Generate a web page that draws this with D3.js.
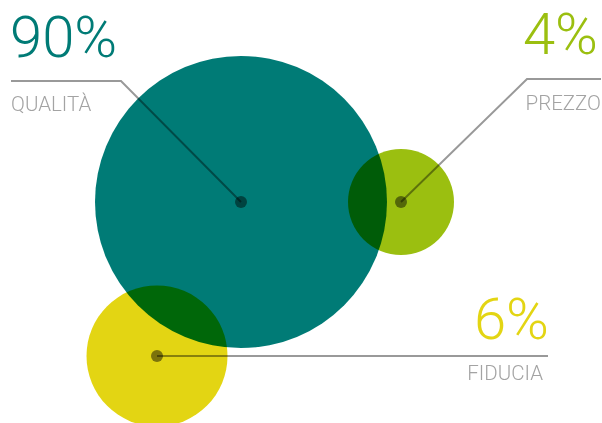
<!DOCTYPE html>
<html>
<head>
<meta charset="utf-8">
<script src="https://cdn.jsdelivr.net/npm/d3@7"></script>
<style>
  body { margin: 0; background: #fff; }
  svg { display: block; }
  .blend { mix-blend-mode: multiply; }
</style>
</head>
<body>
<div id="chart"></div>
<script>
// data
const categories = ['QUALITÀ', 'PREZZO', 'FIDUCIA'];
const values = [90, 4, 6];
const colors = ['#007b76', '#9bbf10', '#e3d513'];

// where each bubble and its label sit
// lx/ly: free end of the leader, knee: where it bends
// vx/vy, nx/ny: anchor points of the value and the name
const layout = [
	{cx: 241, cy: 202, lx: 11, ly: 81, knee: 121, anchor: 'start', vx: 10, nx: 11, vy: 57, ny: 111},
	{cx: 401, cy: 202, lx: 601, ly: 79, knee: 527, anchor: 'end', vx: 598, nx: 601, vy: 54, ny: 110},
	{cx: 157, cy: 356, lx: 548, ly: 356, knee: 548, anchor: 'end', vx: 549, nx: 543, vy: 339, ny: 380}
];

const width = 602, height = 423,
	lineColor = '#999',
	labelColor = '#a3a3a3';

// bubble size, value -> radius
const r = d3.scaleLinear()
	.domain([0, 4, 6, 90])
	.range([0, 53, 70.5, 146]);

const data = categories.map((c, i) => ({name: c, value: values[i], color: colors[i], pos: layout[i]}));

const svg = d3.select('#chart').append('svg')
	.attr('width', width)
	.attr('height', height);

const bubbles = svg.append('g').attr('class', 'bubbles');

bubbles.selectAll('circle')
	.data(data)
	.enter().append('circle')
	.attr('class', 'blend')
	.attr('cx', d => d.pos.cx)
	.attr('cy', d => d.pos.cy)
	.attr('r', d => r(d.value))
	.style('fill', d => d.color);

const leaders = svg.append('g').attr('class', 'leaders');

leaders.selectAll('path')
	.data(data)
	.enter().append('path')
	.attr('class', 'blend')
	.attr('d', d => d3.line()([[d.pos.lx, d.pos.ly], [d.pos.knee, d.pos.ly], [d.pos.cx, d.pos.cy]]))
	.style('fill', 'none')
	.style('stroke', lineColor)
	.style('stroke-width', 2);

leaders.selectAll('circle')
	.data(data)
	.enter().append('circle')
	.attr('class', 'blend')
	.attr('cx', d => d.pos.cx)
	.attr('cy', d => d.pos.cy)
	.attr('r', 6)
	.style('fill', '#8a8a8a');

const labels = svg.append('g').attr('class', 'labels');

const lab = labels.selectAll('g')
	.data(data)
	.enter().append('g')
	.attr('text-anchor', d => d.pos.anchor);

lab.append('text')
	.attr('x', d => d.pos.vx)
	.attr('y', d => d.pos.vy)
	.style('font-family', 'Roboto, sans-serif')
	.style('font-weight', 300)
	.style('font-size', '58px')
	.style('fill', d => d.color)
	.text(d => d.value + '%');

lab.append('text')
	.attr('x', d => d.pos.nx)
	.attr('y', d => d.pos.ny)
	.style('font-family', 'Roboto, sans-serif')
	.style('font-weight', 300)
	.style('font-size', '20.5px')
	.style('fill', labelColor)
	.text(d => d.name);
</script>
</body>
</html>
